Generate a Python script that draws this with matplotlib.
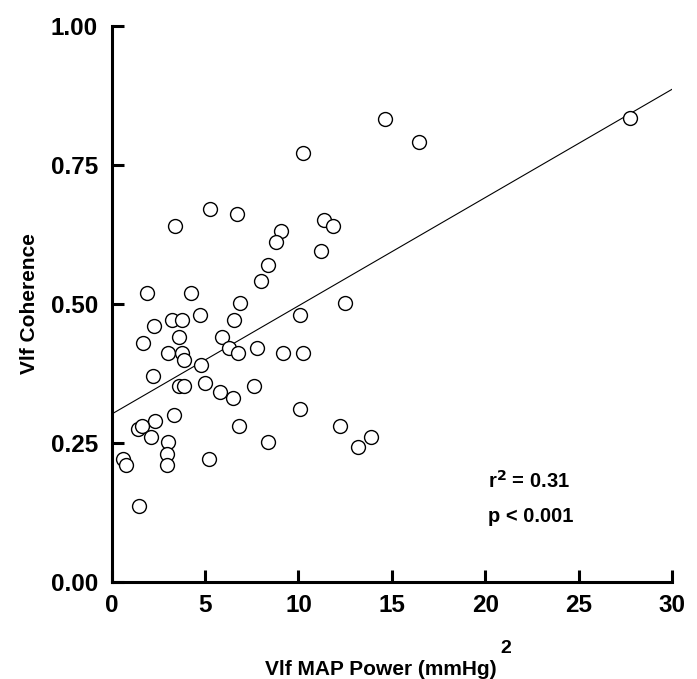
import matplotlib
matplotlib.use("Agg")
import matplotlib.pyplot as plt
import numpy as np

# Data
map_power = [5.27, 6.69, 3.41, 11.34, 11.87, 9.07, 8.80, 11.23, 8.39, 8.01,
             1.87, 4.26, 12.48, 6.87, 10.09, 4.71, 3.21, 3.78, 6.57, 2.27,
             3.59, 5.92, 1.69, 6.27, 7.78, 6.77, 9.18, 10.25, 3.00, 3.75,
             3.89, 4.78, 2.23, 3.62, 3.89, 5.00, 5.80, 7.62,
             6.51, 10.09, 3.34, 2.32, 6.83, 12.23, 1.43, 1.64, 2.09, 3.03,
             8.39, 2.98, 0.62, 0.77, 5.21, 2.98, 1.48,
             14.64, 16.48, 27.76, 10.26, 13.89, 13.17]
coherence = [0.670, 0.661, 0.640, 0.651, 0.641, 0.631, 0.611, 0.595, 0.571, 0.541,
             0.520, 0.520, 0.501, 0.501, 0.481, 0.480, 0.471, 0.471, 0.471, 0.460,
             0.441, 0.441, 0.430, 0.421, 0.421, 0.411, 0.411, 0.411, 0.411, 0.411,
             0.400, 0.391, 0.371, 0.352, 0.352, 0.357, 0.341, 0.352,
             0.331, 0.311, 0.300, 0.290, 0.281, 0.281, 0.276, 0.281, 0.260, 0.251,
             0.251, 0.231, 0.221, 0.210, 0.221, 0.211, 0.137,
             0.832, 0.792, 0.834, 0.771, 0.261, 0.242]
fit_intercept = 0.302
fit_slope = 0.01947
x_ticks = [0, 5, 10, 15, 20, 25, 30]
y_ticks = [0.00, 0.25, 0.50, 0.75, 1.00]
y_tick_labels = ["0.00", "0.25", "0.50", "0.75", "1.00"]

plt.rcParams['font.family'] = ['Liberation Sans', 'DejaVu Sans']

fig = plt.figure(figsize=(6.97, 6.79), dpi=100)
ax = fig.add_axes([0.1603, 0.1429, 0.8038, 0.8188])

fit_x = np.array([0, 30])
ax.plot(fit_x, fit_intercept + fit_slope * fit_x, color='black', lw=0.8, zorder=2)
ax.scatter(map_power, coherence, s=100, facecolors='white', edgecolors='black',
           linewidths=1.0, zorder=3, clip_on=False)

ax.set_xlim(0, 30)
ax.set_ylim(0, 1)
ax.set_xticks(x_ticks)
ax.set_xticklabels([str(t) for t in x_ticks])
ax.set_yticks(y_ticks)
ax.set_yticklabels(y_tick_labels)

for s in ['top', 'right']:
    ax.spines[s].set_visible(False)
for s in ['left', 'bottom']:
    ax.spines[s].set_linewidth(2.2)

ax.tick_params(direction='in', length=8.6, width=2.2, labelsize=17.5)
ax.tick_params(axis='x', pad=9)
ax.tick_params(axis='y', pad=10)
for lab in ax.get_xticklabels() + ax.get_yticklabels():
    lab.set_fontweight('bold')

fig.text(0.546, 0.006, "Vlf MAP Power (mmHg)", ha='center', va='baseline',
         fontsize=15, fontweight='bold')
fig.text(0.726, 0.038, "2", ha='center', va='baseline', fontsize=14, fontweight='bold')
fig.text(0.043, 0.553, "Vlf Coherence", rotation=90, ha='center', va='center',
         fontsize=15, fontweight='bold')

ax.text(0.672, 0.169, r"r$\mathbf{^2}$ = 0.31", transform=ax.transAxes,
        fontsize=14.5, fontweight='bold', ha='left', va='baseline')
ax.text(0.672, 0.108, "p < 0.001", transform=ax.transAxes,
        fontsize=14.5, fontweight='bold', ha='left', va='baseline')

fig.savefig("out.png", dpi=100)
